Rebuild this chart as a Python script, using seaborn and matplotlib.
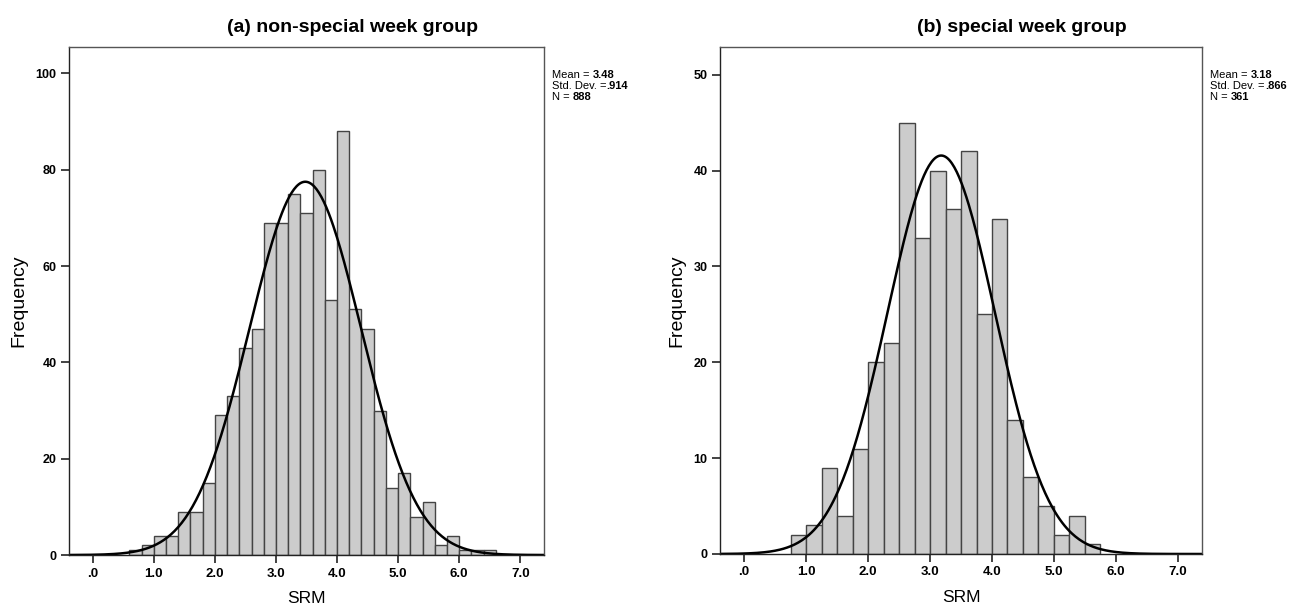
import numpy as np
import pandas as pd
import matplotlib
matplotlib.use("Agg")
import matplotlib.pyplot as plt
import seaborn as sns

# bin counts
edges_a = [0.6, 0.8, 1.0, 1.2, 1.4, 1.6, 1.8, 2.0, 2.2, 2.4, 2.6, 2.8, 3.0, 3.2, 3.4, 3.6,
           3.8, 4.0, 4.2, 4.4, 4.6, 4.8, 5.0, 5.2, 5.4, 5.6, 5.8, 6.0, 6.2, 6.4, 6.6]
counts_a = [1, 2, 4, 4, 9, 9, 15, 29, 33, 43, 47, 69, 69, 75, 71, 80, 53, 88,
            51, 47, 30, 14, 17, 8, 11, 2, 4, 1, 1, 1]
edges_b = [0.75, 1.0, 1.25, 1.5, 1.75, 2.0, 2.25, 2.5, 2.75, 3.0, 3.25, 3.5, 3.75,
           4.0, 4.25, 4.5, 4.75, 5.0, 5.25, 5.5, 5.75]
counts_b = [2, 3, 9, 4, 11, 20, 22, 45, 33, 40, 36, 42, 25, 35, 14, 8, 5, 2, 4, 1]

titles = ["(a) non-special week group", "(b) special week group"]
means = [3.48, 3.18]
sds = [0.914, 0.866]
ns = [888, 361]
mean_lbl = ["3.48", "3.18"]
sd_lbl = [".914", ".866"]
yticks = [[0, 20, 40, 60, 80, 100], [0, 10, 20, 30, 40, 50]]
ylims = [105.5, 52.9]
xticks = [0, 1, 2, 3, 4, 5, 6, 7]
xticklabels = [".0", "1.0", "2.0", "3.0", "4.0", "5.0", "6.0", "7.0"]

sns.set_theme(style="white")
plt.rcParams["font.family"] = ["Liberation Sans", "DejaVu Sans"]
plt.rcParams["text.color"] = "black"
plt.rcParams["axes.labelcolor"] = "black"
plt.rcParams["xtick.color"] = "black"
plt.rcParams["ytick.color"] = "black"

fig = plt.figure(figsize=(13.11, 6.05), dpi=100)
ax1 = fig.add_axes([0.0526, 0.0826, 0.3624, 0.8397])
ax2 = fig.add_axes([0.5492, 0.0843, 0.3677, 0.8380])
title_x = [352 / 1311, 1022 / 1311]

data = [(edges_a, counts_a), (edges_b, counts_b)]
for i, ax in enumerate([ax1, ax2]):
    edges, counts = data[i]
    e = np.array(edges)
    centers = (e[:-1] + e[1:]) / 2
    df = pd.DataFrame({"SRM": centers, "n": counts})
    sns.histplot(data=df, x="SRM", weights="n", bins=list(edges), ax=ax,
                 color="#cccccc", edgecolor="#444444", linewidth=1.0, alpha=1)

    # fitted normal curve scaled to counts
    w = edges[1] - edges[0]
    grid = np.linspace(-0.4, 7.4, 400)
    dens = ns[i] * w / (sds[i] * np.sqrt(2 * np.pi)) * np.exp(-0.5 * ((grid - means[i]) / sds[i]) ** 2)
    sns.lineplot(x=grid, y=dens, ax=ax, color="black", linewidth=1.8)

    ax.set_xlim(-0.39, 7.39)
    ax.set_ylim(0, ylims[i])
    ax.set_xticks(xticks)
    ax.set_xticklabels(xticklabels, fontsize=9.5, fontweight="bold")
    ax.set_yticks(yticks[i])
    ax.set_yticklabels([str(v) for v in yticks[i]], fontsize=9, fontweight="bold")
    ax.tick_params(axis="both", direction="out", length=6, width=1.2, color="#222222",
                   bottom=True, left=True, pad=3)
    ax.set_xlabel("SRM", fontsize=12.5, labelpad=8)
    ax.set_ylabel("Frequency", fontsize=14, labelpad=6)
    fig.text(title_x[i], 1 - 27 / 605, titles[i], fontsize=14, fontweight="bold",
             ha="center", va="center")
    for s in ax.spines.values():
        s.set_color("#555555")
        s.set_linewidth(1.0)
    ax.spines["bottom"].set_color("#222222")
    ax.spines["left"].set_color("#222222")

    # stats text, value parts in bold
    lines = [("Mean = ", mean_lbl[i]), ("Std. Dev. =", sd_lbl[i]), ("N = ", str(ns[i]))]
    for k, (lab, val) in enumerate(lines):
        t = ax.text(1.017, 0.945 - k * 0.0215, lab, transform=ax.transAxes,
                    fontsize=8, va="center", ha="left")
        ax.annotate(val, xy=(1, 0.5), xycoords=t, va="center", ha="left",
                    fontsize=8, fontweight="bold")

fig.savefig("out.png", dpi=100)
